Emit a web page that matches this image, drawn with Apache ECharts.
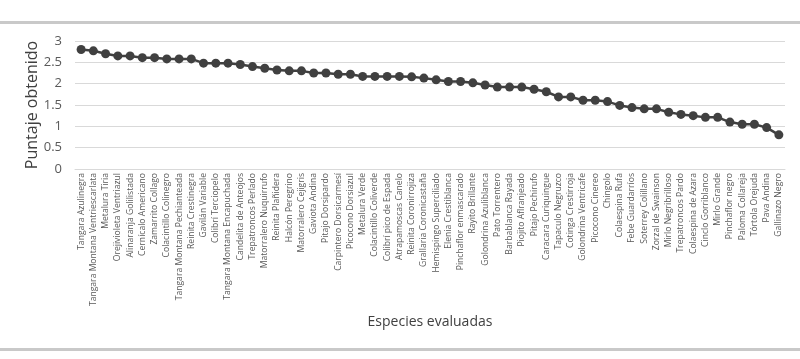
<!DOCTYPE html>
<html>
<head>
<meta charset="utf-8">
<script src="https://cdn.jsdelivr.net/npm/echarts@6/dist/echarts.min.js"></script>
<style>
html,body{margin:0;padding:0;background:#fff;}
#c{width:800px;height:359px;}
</style>
</head>
<body>
<div id="c"></div>
<script>
const categories = [
"Tangara Azulinegra","Tangara Montana Ventriescarlata","Metalura Tiria","Orejivioleta Ventriazul",
"Alinaranja Golilistada","Cernícalo Americano","Zamarrito Collago","Colacintillo Colinegro",
"Tangara Montana Pechianteada","Reinita Crestinegra","Gavilán Variable","Colibrí Terciopelo",
"Tangara Montana Encapuchada","Candelita de Anteojos","Trepatroncos Perlado","Matorralero Nuquirrufo",
"Reinita Plañidera","Halcón Peregrino","Matorralero Cejigris","Gaviota Andina","Pitajo Dorsipardo",
"Carpintero Dorsicarmesí","Picocono Dorsiazul","Metalura Verde","Colacintillo Coliverde",
"Colibrí pico de Espada","Atrapamoscas Canelo","Reinita Coronirrojiza","Grallaria Coronicastaña",
"Hemispingo Superciliado","Elenia Crestiblanca","Pinchaflor enmascarado","Rayito Brillante",
"Golondrina Azuliblanca","Pato Torrentero","Barbablanca Rayada","Piojito Aflranjeado",
"Pitajo Pechirufo","Caracara Curiquingue","Tapaculo Negruzco","Cotinga Crestirroja",
"Golondrina Ventricafe","Picocono Cinereo","Chingolo","Colaespina Rufa","Febe Guardarríos",
"Soterrey Colillano","Zorzal de Swainson","Mirlo Negribrilloso","Trepatroncos Pardo",
"Colaespina de Azara","Cinclo Gorriblanco","Mirlo Grande","Pinchaflor negro","Paloma Collareja",
"Tórtola Orejuda","Pava Andina","Gallinazo Negro"
];
const puntajes = [
2.80,2.77,2.70,2.65,2.65,2.61,2.61,2.58,2.58,2.58,2.48,2.48,2.48,2.45,
2.40,2.36,2.32,2.30,2.30,2.25,2.25,2.22,2.22,2.17,2.17,2.17,2.17,2.16,
2.13,2.09,2.05,2.05,2.02,1.97,1.92,1.92,1.92,1.87,1.81,1.69,1.69,1.61,
1.61,1.58,1.49,1.44,1.41,1.41,1.33,1.28,1.25,1.21,1.21,1.10,1.05,1.05,
0.97,0.80
];
const yTicks = [0,0.5,1,1.5,2,2.5,3];

const chart = echarts.init(document.getElementById('c'), null, {renderer:'canvas'});
chart.setOption({
  animation:false,
  backgroundColor:'#ffffff',
  textStyle:{fontFamily:'"Open Sans", "Liberation Sans", sans-serif'},
  graphic:[
    {type:'rect', shape:{x:0,y:21,width:800,height:3}, style:{fill:'#c9c9c9'}},
    {type:'rect', shape:{x:0,y:348,width:800,height:3}, style:{fill:'#c9c9c9'}}
  ],
  grid:{left:75, right:15, top:41, bottom:190, containLabel:false},
  xAxis:{
    type:'category',
    data:categories,
    boundaryGap:true,
    axisLine:{show:true, lineStyle:{color:'#d9d9d9', width:1}},
    axisTick:{show:false},
    axisLabel:{interval:0, rotate:90, fontSize:8.6, color:'#595959', margin:4},
    name:'Especies evaluadas',
    nameLocation:'middle',
    nameMoveOverlap:false,
    nameGap:146,
    nameTextStyle:{fontSize:14, color:'#404040'}
  },
  yAxis:{
    type:'value',
    min:yTicks[0], max:yTicks[yTicks.length-1], interval:0.5,
    axisLine:{show:false},
    axisTick:{show:false},
    axisLabel:{fontSize:13, color:'#595959', margin:13},
    splitLine:{lineStyle:{color:'#d9d9d9', width:1}},
    name:'Puntaje obtenido',
    nameLocation:'middle',
    nameMoveOverlap:false,
    nameGap:35,
    nameTextStyle:{fontSize:16, color:'#404040'}
  },
  series:[{
    type:'line',
    data:puntajes,
    symbol:'circle',
    symbolSize:9,
    lineStyle:{color:'#404040', width:2.5},
    itemStyle:{color:'#404040'}
  }]
});
</script>
</body>
</html>
